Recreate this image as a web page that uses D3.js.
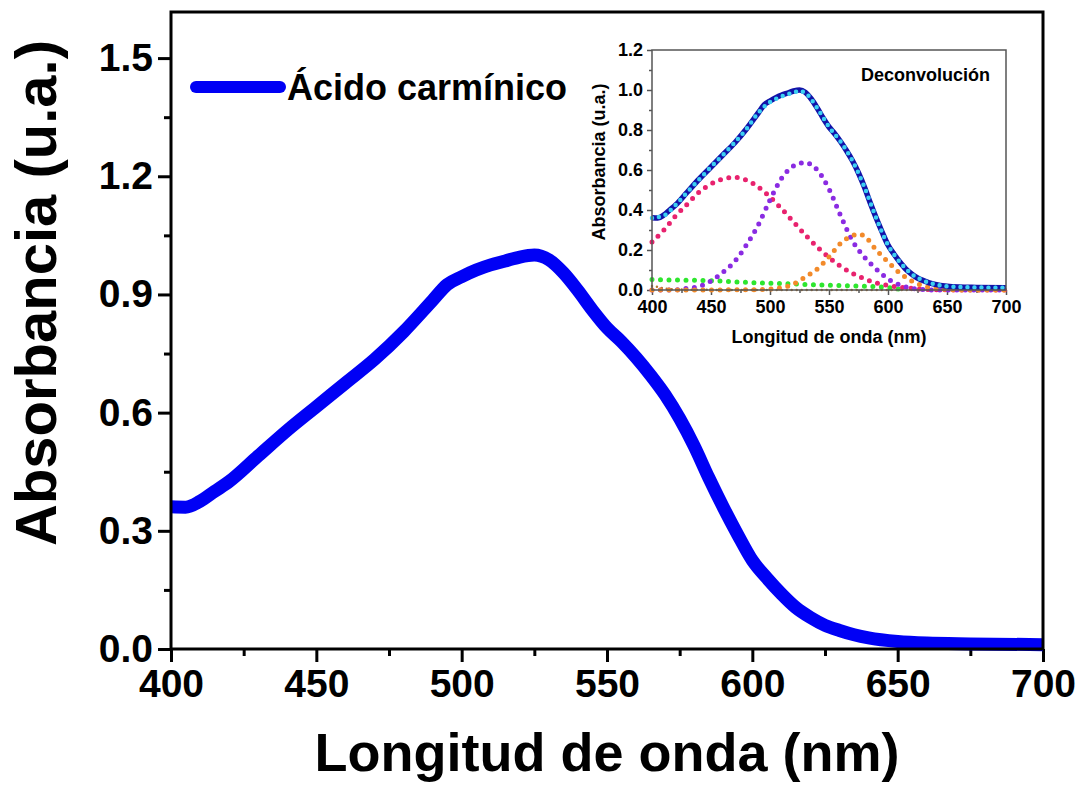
<!DOCTYPE html>
<html>
<head>
<meta charset="utf-8">
<script src="https://cdn.jsdelivr.net/npm/d3@7/dist/d3.min.js"></script>
<style>
  html, body { margin: 0; padding: 0; background: #ffffff; }
  svg { display: block; }
  text { font-family: "Liberation Sans", Arial, sans-serif; font-weight: bold; fill: #000; }
</style>
</head>
<body>
<svg id="chart" width="1080" height="791"></svg>
<script>
// ---- Measured UV-Vis spectrum of carminic acid ----
const wavelength = [400, 405, 410, 415, 420, 430, 440, 450, 460, 470, 480, 490, 495, 500, 505, 510, 515, 520, 525, 530,
                    535, 540, 545, 550, 555, 560, 565, 570, 575, 580, 585, 590, 595, 600, 605, 610, 615, 620, 625, 630,
                    635, 640, 650, 660, 675, 700];
const absorbance = [0.361, 0.360, 0.375, 0.400, 0.425, 0.490, 0.555, 0.615, 0.675, 0.735, 0.805, 0.885, 0.925, 0.945, 0.962, 0.975, 0.985, 0.995, 1.000, 0.988,
                    0.955, 0.910, 0.860, 0.815, 0.780, 0.740, 0.695, 0.645, 0.585, 0.515, 0.435, 0.360, 0.290, 0.225, 0.180, 0.140, 0.105, 0.080, 0.060, 0.047,
                    0.036, 0.028, 0.019, 0.015, 0.013, 0.011];

// ---- Deconvolution (inset) ----
const fitNm    = [400, 410, 420, 430, 440, 450, 460, 470, 480, 490, 500, 510, 520, 525, 530, 540, 550, 560, 570, 580, 590, 600, 610, 620, 630, 640, 650, 660, 680, 700];
const fitTotal = [0.360, 0.372, 0.425, 0.490, 0.553, 0.615, 0.675, 0.737, 0.805, 0.885, 0.940, 0.968, 0.988, 0.995, 0.985, 0.910, 0.815, 0.740, 0.645, 0.515, 0.360, 0.225, 0.140, 0.080, 0.047, 0.028, 0.019, 0.015, 0.012, 0.011];

const band1Nm  = [400, 410, 420, 430, 440, 450, 460, 470, 480, 490, 500, 510, 520, 530, 540, 550, 560, 570, 580, 590, 600, 610, 620, 630, 640, 660, 700];
const band1    = [0.240, 0.300, 0.370, 0.430, 0.490, 0.530, 0.555, 0.563, 0.550, 0.515, 0.465, 0.405, 0.340, 0.275, 0.215, 0.163, 0.118, 0.083, 0.056, 0.036, 0.023, 0.014, 0.008, 0.004, 0.002, 0.000, 0.000];

const band2Nm  = [400, 420, 430, 440, 450, 460, 470, 480, 490, 500, 510, 520, 530, 540, 550, 560, 570, 580, 590, 600, 610, 620, 630, 640, 700];
const band2    = [0.000, 0.001, 0.008, 0.018, 0.045, 0.088, 0.142, 0.225, 0.325, 0.450, 0.560, 0.620, 0.637, 0.600, 0.505, 0.370, 0.245, 0.165, 0.105, 0.055, 0.025, 0.008, 0.002, 0.000, 0.000];

const band3Nm  = [400, 480, 500, 510, 520, 530, 540, 550, 560, 570, 575, 580, 590, 600, 610, 620, 630, 640, 650, 670, 700];
const band3    = [0.000, 0.001, 0.005, 0.012, 0.030, 0.065, 0.105, 0.165, 0.235, 0.272, 0.280, 0.270, 0.200, 0.140, 0.085, 0.045, 0.020, 0.008, 0.003, 0.000, 0.000];

const baselineNm = [400, 420, 440, 460, 480, 500, 520, 540, 560, 580, 600, 610];
const baseline   = [0.052, 0.050, 0.048, 0.044, 0.038, 0.034, 0.030, 0.026, 0.022, 0.019, 0.012, 0.004];

const band0Nm  = [400, 405, 410, 420, 440, 480, 700];
const band0    = [0.020, 0.015, 0.008, 0.003, 0.001, 0.000, 0.000];

// ---- Axis ticks ----
const xMajor = [400, 450, 500, 550, 600, 650, 700];
const xMinor = [425, 475, 525, 575, 625, 675];
const yMajor = [0.0, 0.3, 0.6, 0.9, 1.2, 1.5];
const yMinor = [0.15, 0.45, 0.75, 1.05, 1.35];
const insetYMajor = [0.0, 0.2, 0.4, 0.6, 0.8, 1.0, 1.2];
const insetYMinor = [0.1, 0.3, 0.5, 0.7, 0.9, 1.1];

const legendLabel = "Ácido carmínico";
const xTitle = "Longitud de onda (nm)";
const yTitle = "Absorbancia (u.a.)";
const insetTitle = "Deconvolución";

const svg = d3.select("#chart");
const FONT = '"Liberation Sans", Arial, sans-serif';

// ================= Main panel =================
const plot = { left: 171, right: 1043, top: 12, bottom: 649 };
const x = d3.scaleLinear().domain([400, 700]).range([plot.left, plot.right]);
const y = d3.scaleLinear().domain([0, 1.617]).range([plot.bottom, plot.top]);

function styleAxis(g, size) {
  g.attr("font-family", FONT).attr("font-weight", "bold").attr("font-size", size);
}

// minor ticks
svg.append("g")
  .attr("transform", `translate(0,${plot.bottom})`)
  .call(d3.axisBottom(x).tickValues(xMinor).tickSize(7).tickSizeOuter(0).tickFormat(""))
  .call(g => g.select(".domain").remove())
  .call(g => g.selectAll("line").attr("stroke", "#000").attr("stroke-width", 3));
svg.append("g")
  .attr("transform", `translate(${plot.left},0)`)
  .call(d3.axisLeft(y).tickValues(yMinor).tickSize(7).tickSizeOuter(0).tickFormat(""))
  .call(g => g.select(".domain").remove())
  .call(g => g.selectAll("line").attr("stroke", "#000").attr("stroke-width", 3));

// major ticks + labels
svg.append("g")
  .attr("transform", `translate(0,${plot.bottom})`)
  .call(d3.axisBottom(x).tickValues(xMajor).tickSize(13).tickSizeOuter(0).tickPadding(7).tickFormat(d3.format("d")))
  .call(g => styleAxis(g, 39))
  .call(g => g.select(".domain").remove())
  .call(g => g.selectAll("line").attr("stroke", "#000").attr("stroke-width", 3));
svg.append("g")
  .attr("transform", `translate(${plot.left},0)`)
  .call(d3.axisLeft(y).tickValues(yMajor).tickSize(13).tickSizeOuter(0).tickPadding(5).tickFormat(d3.format(".1f")))
  .call(g => styleAxis(g, 39))
  .call(g => g.select(".domain").remove())
  .call(g => g.selectAll("line").attr("stroke", "#000").attr("stroke-width", 3));

// spectrum
const mainLine = d3.line()
  .x((d, i) => x(wavelength[i]))
  .y(d => y(d))
  .curve(d3.curveMonotoneX);
svg.append("path")
  .datum(absorbance)
  .attr("d", mainLine)
  .attr("fill", "none")
  .attr("stroke", "#0000f5")
  .attr("stroke-width", 13)
  .attr("stroke-linejoin", "round")
  .attr("stroke-linecap", "butt");

// frame
svg.append("rect")
  .attr("x", plot.left).attr("y", plot.top)
  .attr("width", plot.right - plot.left).attr("height", plot.bottom - plot.top)
  .attr("fill", "none").attr("stroke", "#000").attr("stroke-width", 3);

// legend
svg.append("line")
  .attr("x1", 196).attr("x2", 280).attr("y1", 87).attr("y2", 87)
  .attr("stroke", "#0000f5").attr("stroke-width", 12).attr("stroke-linecap", "round");
svg.append("text")
  .attr("x", 287).attr("y", 100)
  .attr("font-size", 36)
  .text(legendLabel);

// axis titles
svg.append("text")
  .attr("x", (plot.left + plot.right) / 2).attr("y", 771)
  .attr("text-anchor", "middle")
  .attr("font-size", 54)
  .text(xTitle);
svg.append("text")
  .attr("transform", "translate(56,293) rotate(-90)")
  .attr("text-anchor", "middle")
  .attr("font-size", 58)
  .text(yTitle);

// ================= Inset: deconvolution =================
const ins = { left: 652, right: 1006, top: 50, bottom: 290 };
const xi = d3.scaleLinear().domain([400, 700]).range([ins.left, ins.right]);
const yi = d3.scaleLinear().domain([0, 1.2]).range([ins.bottom, ins.top]);
const insetAxisColor = "#555";

svg.append("g")
  .attr("transform", `translate(0,${ins.bottom})`)
  .call(d3.axisBottom(xi).tickValues(xMinor).tickSize(3).tickSizeOuter(0).tickFormat(""))
  .call(g => g.select(".domain").remove())
  .call(g => g.selectAll("line").attr("stroke", insetAxisColor).attr("stroke-width", 1.5));
svg.append("g")
  .attr("transform", `translate(${ins.left},0)`)
  .call(d3.axisLeft(yi).tickValues(insetYMinor).tickSize(3).tickSizeOuter(0).tickFormat(""))
  .call(g => g.select(".domain").remove())
  .call(g => g.selectAll("line").attr("stroke", insetAxisColor).attr("stroke-width", 1.5));
svg.append("g")
  .attr("transform", `translate(0,${ins.bottom})`)
  .call(d3.axisBottom(xi).tickValues(xMajor).tickSize(5).tickSizeOuter(0).tickPadding(5).tickFormat(d3.format("d")))
  .call(g => styleAxis(g, 18))
  .call(g => g.select(".domain").remove())
  .call(g => g.selectAll("line").attr("stroke", insetAxisColor).attr("stroke-width", 1.5));
svg.append("g")
  .attr("transform", `translate(${ins.left},0)`)
  .call(d3.axisLeft(yi).tickValues(insetYMajor).tickSize(5).tickSizeOuter(0).tickPadding(4).tickFormat(d3.format(".1f")))
  .call(g => styleAxis(g, 18))
  .call(g => g.select(".domain").remove())
  .call(g => g.selectAll("line").attr("stroke", insetAxisColor).attr("stroke-width", 1.5));

function insetCurve(nm, vals) {
  return d3.line()
    .x((d, i) => xi(nm[i]))
    .y(d => yi(d))
    .curve(d3.curveMonotoneX)(vals);
}
function dotted(nm, vals, color, width, gap) {
  svg.append("path")
    .attr("d", insetCurve(nm, vals))
    .attr("fill", "none")
    .attr("stroke", color)
    .attr("stroke-width", width)
    .attr("stroke-linecap", "round")
    .attr("stroke-dasharray", `0 ${gap}`);
}

// component bands
dotted(band0Nm, band0, "#b8782a", 2.5, 5);
dotted(baselineNm, baseline, "#2ee62e", 5, 8.5);
dotted(band1Nm, band1, "#e8226e", 5, 8.5);
dotted(band2Nm, band2, "#8a2be2", 5, 8.5);
dotted(band3Nm, band3, "#f28a2a", 5, 8.5);

// measured spectrum and cumulative fit
svg.append("path")
  .attr("d", insetCurve(wavelength, absorbance))
  .attr("fill", "none")
  .attr("stroke", "#1212a8")
  .attr("stroke-width", 5.5)
  .attr("stroke-linejoin", "round");
dotted(fitNm, fitTotal, "#3cd0f2", 4.5, 7);

// inset frame
svg.append("rect")
  .attr("x", ins.left).attr("y", ins.top)
  .attr("width", ins.right - ins.left).attr("height", ins.bottom - ins.top)
  .attr("fill", "none").attr("stroke", insetAxisColor).attr("stroke-width", 1.5);

svg.append("text")
  .attr("x", 990).attr("y", 81)
  .attr("text-anchor", "end")
  .attr("font-size", 18)
  .text(insetTitle);
svg.append("text")
  .attr("x", (ins.left + ins.right) / 2).attr("y", 343)
  .attr("text-anchor", "middle")
  .attr("font-size", 18)
  .text(xTitle);
svg.append("text")
  .attr("transform", `translate(605,${(ins.top + ins.bottom) / 2 - 8}) rotate(-90)`)
  .attr("text-anchor", "middle")
  .attr("font-size", 18)
  .text(yTitle);
</script>
</body>
</html>
